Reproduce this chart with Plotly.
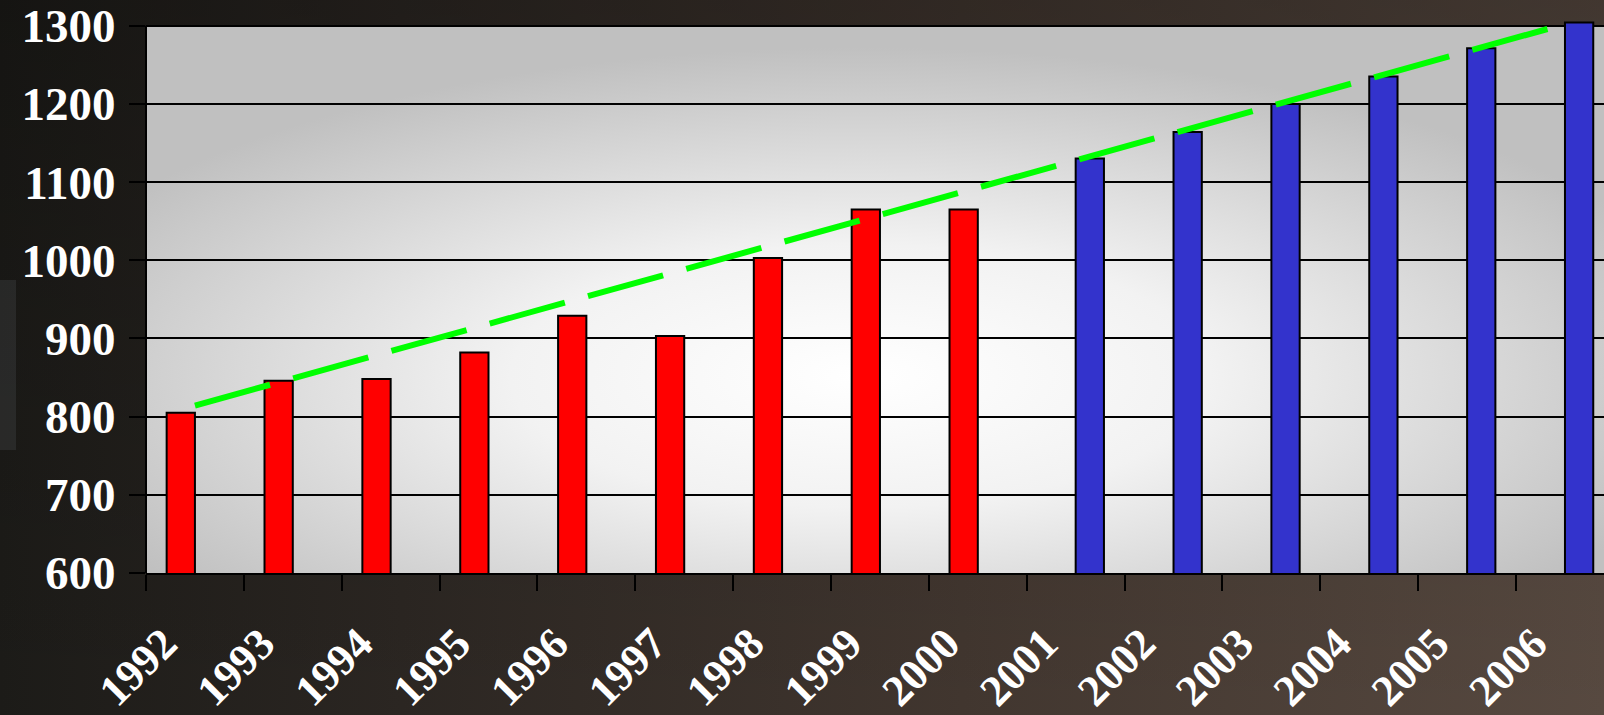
import base64
import plotly.graph_objects as go

# ---------------- data ----------------
years = ["1992", "1993", "1994", "1995", "1996", "1997", "1998", "1999",
         "2000", "2001", "2002", "2003", "2004", "2005", "2006"]
actual = [805, 846, 848, 882, 929, 903, 1003, 1065, 1065,
          None, None, None, None, None, None]
forecast = [None, None, None, None, None, None, None, None, None,
            1130, 1164, 1200, 1235, 1271, 1304]
trend_years = ["1992", "2006"]
trend_values = [814, 1302]
y_ticks = [600, 700, 800, 900, 1000, 1100, 1200, 1300]
y_min, y_max = 600, 1300

# ---------------- layout constants ----------------
W, H = 1604, 715
ML, MR, MT, MB = 146, 0, 21, 142
PW, PH = W - ML - MR, H - MT - MB
FONT = "Liberation Serif"


def svg_uri(svg):
    return "data:image/svg+xml;base64," + base64.b64encode(svg.encode()).decode()


bg_svg = f"""<svg xmlns='http://www.w3.org/2000/svg' width='{W}' height='{H}' viewBox='0 0 {W} {H}' preserveAspectRatio='none'>
<defs>
<linearGradient id='h' x1='0' y1='0' x2='1' y2='0'>
<stop offset='0' stop-color='#1c1b18'/>
<stop offset='0.25' stop-color='#2b2622'/>
<stop offset='0.6' stop-color='#41362f'/>
<stop offset='1' stop-color='#574940'/>
</linearGradient>
<linearGradient id='v' x1='0' y1='0' x2='0' y2='1'>
<stop offset='0' stop-color='#000000' stop-opacity='0.25'/>
<stop offset='0.5' stop-color='#000000' stop-opacity='0.1'/>
<stop offset='1' stop-color='#000000' stop-opacity='0.0'/>
</linearGradient>
</defs>
<rect width='{W}' height='{H}' fill='url(#h)'/>
<rect width='{W}' height='{H}' fill='url(#v)'/>
<rect x='0' y='280' width='16' height='170' fill='#4d5052' opacity='0.3'/>
</svg>"""

plot_svg = """<svg xmlns='http://www.w3.org/2000/svg' width='1000' height='1000' viewBox='0 0 1000 1000' preserveAspectRatio='none'>
<defs>
<radialGradient id='g' cx='0.49' cy='0.64' r='0.6'>
<stop offset='0' stop-color='#ffffff'/>
<stop offset='0.4' stop-color='#f2f2f2'/>
<stop offset='1' stop-color='#c0c0c0'/>
</radialGradient>
</defs>
<rect width='1000' height='1000' fill='url(#g)'/>
</svg>"""

fig = go.Figure()

fig.add_trace(go.Bar(
    x=years, y=actual, name="actual",
    marker=dict(color="#ff0000", line=dict(color="#000000", width=2)),
))
fig.add_trace(go.Bar(
    x=years, y=forecast, name="forecast",
    marker=dict(color="#3333cc", line=dict(color="#000000", width=2)),
))
fig.add_trace(go.Scatter(
    x=trend_years, y=trend_values, mode="lines",
    line=dict(color="#00ff00", width=6, dash="78px,24px"),
))

cat_w = 97.86
x_end = -0.5 + PW / cat_w

fig.update_layout(
    width=W, height=H,
    margin=dict(l=ML, r=MR, t=MT, b=MB, pad=0, autoexpand=False),
    paper_bgcolor="#2a2420",
    plot_bgcolor="rgba(0,0,0,0)",
    showlegend=False,
    barmode="group", bargap=0.422, bargroupgap=0,
    images=[
        dict(source=svg_uri(bg_svg), xref="paper", yref="paper",
             x=-ML / PW, y=1 + MT / PH, sizex=W / PW, sizey=H / PH,
             sizing="stretch", layer="below", xanchor="left", yanchor="top"),
        dict(source=svg_uri(plot_svg), xref="paper", yref="y",
             x=0, y=y_max, sizex=1, sizey=y_max - y_min,
             sizing="stretch", layer="below", xanchor="left", yanchor="top"),
    ],
    shapes=[
        dict(type="line", xref="paper", yref="y", x0=0, x1=0, y0=y_min, y1=y_max,
             line=dict(color="#000000", width=2), layer="above"),
    ],
)

fig.update_xaxes(
    type="category", range=[-0.5, x_end], automargin=False,
    tickson="boundaries", ticks="outside", ticklen=16, tickwidth=1.5, tickcolor="#000000",
    showline=True, linecolor="#000000", linewidth=2,
    showgrid=False, zeroline=False,
    tickangle=-45, ticklabelstandoff=25, ticklabelshift=-31,
    tickfont=dict(family=FONT, size=44, color="#ffffff", weight="bold"),
)
fig.update_yaxes(
    range=[y_min, y_max + 6], tickvals=y_ticks, automargin=False,
    ticks="outside", ticklen=16, tickwidth=1.5, tickcolor="#000000",
    showline=False, showgrid=True, gridcolor="#000000", gridwidth=1.5,
    zeroline=False, ticklabelstandoff=4,
    tickfont=dict(family=FONT, size=47, color="#ffffff", weight="bold"),
)

fig.write_html(
    "out.html",
    config={"displayModeBar": False},
    post_script="document.body.style.margin='0';document.body.style.padding='0';",
)
